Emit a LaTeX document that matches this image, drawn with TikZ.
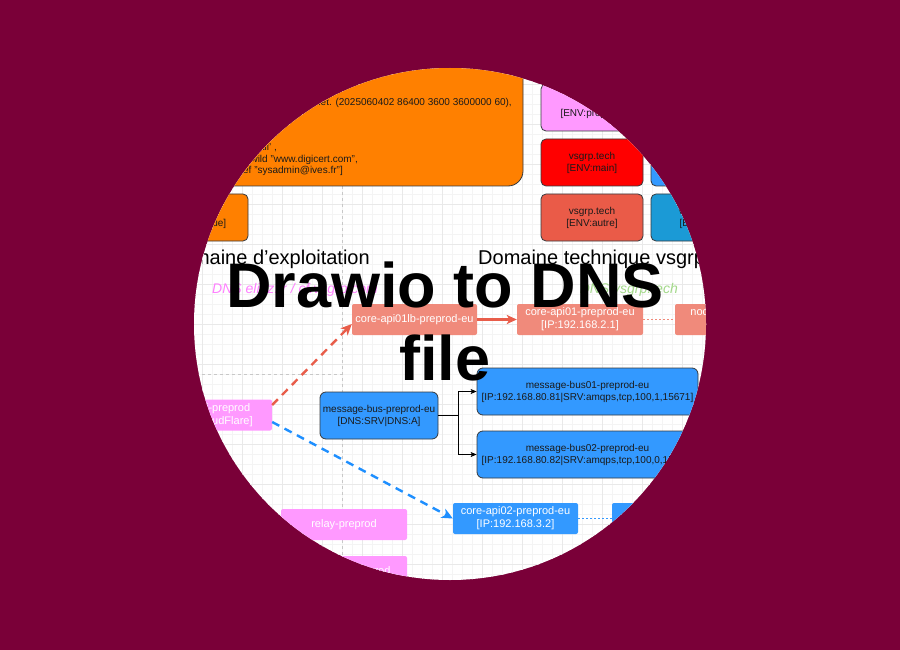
\documentclass[tikz,border=0pt]{standalone}
\usepackage{fontspec}
\setmainfont{Liberation Sans}
\usetikzlibrary{arrows.meta,calc}
\newcommand\fsz[2]{\fontsize{#1}{#2}\selectfont}
\definecolor{bgmaroon}{RGB}{122,0,56}
\definecolor{orangebox}{HTML}{FF8000}
\definecolor{pinkbox}{HTML}{FF99FF}
\definecolor{redbox}{HTML}{FF0000}
\definecolor{autrebox}{HTML}{EA5B48}
\definecolor{bluebox}{HTML}{3399FF}
\definecolor{cyanbox}{HTML}{1B9AD6}
\definecolor{salmonbox}{HTML}{F08A7B}
\definecolor{arrowred}{HTML}{E85D4A}
\definecolor{arrowblue}{HTML}{1E8FFF}
\definecolor{borderdark}{HTML}{36393D}
\definecolor{txtdark}{HTML}{1A1A1A}
\definecolor{gridminor}{HTML}{F4F4F4}
\definecolor{gridmajor}{HTML}{E9E9E9}
\definecolor{greenlbl}{HTML}{A3D98A}
\definecolor{pinklbl}{HTML}{FF80FF}
\definecolor{guide}{HTML}{C8C8C8}
\tikzset{
  envbox/.style={rectangle, rounded corners=5pt, draw=borderdark, line width=0.8pt,
    minimum width=102pt, minimum height=47pt, inner sep=0pt, align=center,
    text=txtdark, font=\fsz{10}{12}},
  flatbox/.style={rectangle, rounded corners=2pt, inner sep=0pt, minimum width=125pt,
    minimum height=31pt, align=center, text=white, font=\fsz{11}{13}},
  busbox/.style={rectangle, rounded corners=6pt, draw=borderdark, fill=bluebox,
    line width=0.8pt, minimum height=47pt, inner sep=0pt, align=center,
    text=txtdark, font=\fsz{10}{12}},
  soatext/.style={anchor=base east, inner sep=0pt, text=txtdark, font=\fsz{10}{12}},
  heading/.style={inner sep=0pt, font=\fsz{20}{24}},
  dnslabel/.style={inner sep=0pt, font=\fsz{14}{16}\itshape},
  guideline/.style={guide, line width=0.6pt, dash pattern=on 3pt off 3pt},
  dashedarrow/.style={line width=2.4pt, dash pattern=on 8pt off 6pt,
    -{Stealth[length=11pt,width=10pt,inset=3pt]}},
  dotlink/.style={line width=1pt, dash pattern=on 2pt off 2pt},
  elbow/.style={line width=0.7pt, black, -{Stealth[length=6pt,width=5pt,inset=1.5pt]}},
  titletext/.style={inner sep=0pt, anchor=base, font=\fsz{63}{73}\bfseries, text=black}
}
\begin{document}
\begin{tikzpicture}[x=1pt,y=-1pt]
\useasboundingbox (0,0) rectangle (900,650);
\fill[bgmaroon] (0,0) rectangle (900,650);
\begin{scope}
  \clip (450,324) circle[radius=256pt];
  \fill[white] (0,0) rectangle (900,650);
  % grid
  \foreach \gx in {2,12,...,902} \draw[gridminor, line width=0.4pt] (\gx,0) -- (\gx,650);
  \foreach \gy in {4,14,...,654} \draw[gridminor, line width=0.4pt] (0,\gy) -- (900,\gy);
  \foreach \gx in {2,42,...,882} \draw[gridmajor, line width=0.5pt] (\gx,0) -- (\gx,650);
  \foreach \gy in {4,44,...,644} \draw[gridmajor, line width=0.5pt] (0,\gy) -- (900,\gy);
  % guides
  \coordinate (gtop) at (342,186);
  \coordinate (gbot) at (342,650);
  \coordinate (hleft) at (100,374);
  \coordinate (hright) at (342,374);
  \draw[guideline] (gtop) -- (gbot);
  \draw[guideline] (hleft) -- (hright);

  % SOA box
  \node[rectangle, rounded corners=15pt, draw=borderdark, line width=0.8pt, fill=orangebox,
        minimum width=383pt, minimum height=176pt, inner sep=0pt] (soa) at (331.5,98) {};
  \node[soatext] (soa1) at (512,106) {[SOA:ns1.elioz.net. hostmaster.elioz.net. (2025060402 86400 3600 3600000 60),};
  \node[soatext] (soa5) at (277,151) {TXT:'v=spf1 mx -all' ,};
  \node[soatext] (soa6) at (358,163) {CAA:0 issuewild "www.digicert.com",};
  \node[soatext] (soa7) at (343,174) {CAA:0 iodef "sysadmin@ives.fr"]};
  \node[envbox, fill=orangebox] (envorange) at (197,217.5) {elioz.fr\\{}[ENV:unique]};

  % vsgrp boxes
  \node[envbox, fill=pinkbox] (envpink) at (592,107.5) {\strut\\{}[ENV:preprod]};
  \node[envbox, fill=redbox] (envmain) at (592,162.5) {vsgrp.tech\\{}[ENV:main]};
  \node[envbox, fill=autrebox] (envautre) at (592,217.5) {vsgrp.tech\\{}[ENV:autre]};
  \node[envbox, fill=bluebox] (envtest) at (702,162.5) {vsgrp.tech\\{}[ENV:test]};
  \node[envbox, fill=cyanbox] (envdev) at (702,217.5) {vsgrp.tech\\{}[ENV:dev]};

  % headings
  \node[heading, anchor=base east] (hexp) at (370,264) {Domaine d'exploitation};
  \node[heading, anchor=base west] (htech) at (478,264) {Domaine technique vsgrp.tech};
  \node[dnslabel, anchor=base west, text=pinklbl] (dnselioz) at (212,293) {DNS elioz.fr / cf.vsgrp.com};
  \node[dnslabel, anchor=base east, text=greenlbl] (dnsvsgrp) at (678,293) {DNS vsgrp.tech};

  % salmon row
  \node[flatbox, fill=salmonbox] (lb) at (414.5,319.5) {core-api01lb-preprod-eu};
  \node[flatbox, fill=salmonbox, minimum width=126pt] (api01) at (580,319.5) {core-api01-preprod-eu\\{}[IP:192.168.2.1]};
  \node[flatbox, fill=salmonbox] (node01) at (737.5,319.5) {node01-preprod-eu\\\strut};
  \draw[arrowred, line width=2.4pt, -{Stealth[length=10pt,width=9pt,inset=2.5pt]}] (lb) -- (api01);
  \draw[salmonbox, dotlink] (api01) -- (node01);

  % cloudflare entry
  \node[flatbox, fill=pinkbox] (cfapi) at (209.5,415) {core-api-preprod\\{}[DNS:CloudFlare]};

  % message bus
  \node[busbox, minimum width=118pt] (mbus) at (379,415.5) {message-bus-preprod-eu\\{}[DNS:SRV|DNS:A]};
  \node[busbox, minimum width=221pt] (mbus01) at (587.5,391.5) {message-bus01-preprod-eu\\{}[IP:192.168.80.81|SRV:amqps,tcp,100,1,15671]};
  \node[busbox, minimum width=221pt] (mbus02) at (587.5,454.5) {message-bus02-preprod-eu\\{}[IP:192.168.80.82|SRV:amqps,tcp,100,0,15672]};
  \draw[elbow] (mbus.east) -- ++(20,0) |- (mbus01.west);
  \draw[elbow] (mbus.east) -- ++(20,0) |- (mbus02.west);

  % blue row
  \node[flatbox, fill=bluebox] (api02) at (515.5,518.5) {core-api02-preprod-eu\\{}[IP:192.168.3.2]};
  \node[flatbox, fill=bluebox] (node02) at (674.5,518.5) {};
  \draw[bluebox, dotlink] (api02) -- (node02);

  % relays
  \node[flatbox, fill=pinkbox, minimum width=126pt] (relay) at (344,524.5) {relay-preprod};
  \node[flatbox, fill=pinkbox, minimum width=126pt] (relay2) at (344,571.5) {smtp-relay-preprod};

  % dashed arrows
  \draw[arrowred, dashedarrow] ([yshift=10pt]cfapi.east) -- ([yshift=-4.5pt]lb.west);
  \draw[arrowblue, dashedarrow] ([yshift=-7pt]cfapi.east) -- (api02.west);
\end{scope}
% title
\node[titletext] (title1) at (445,307) {Drawio to DNS};
\node[titletext] (title2) at (445,380) {file};
\end{tikzpicture}
\end{document}
